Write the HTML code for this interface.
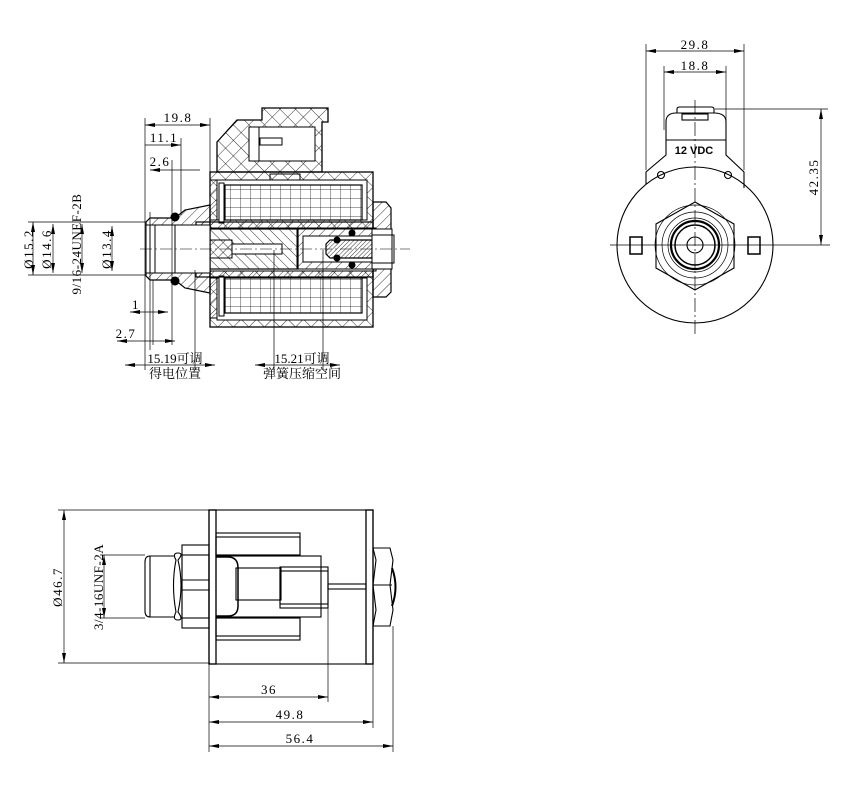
<!DOCTYPE html>
<html><head><meta charset="utf-8"><style>
html,body{margin:0;padding:0;background:#fff;}
svg{display:block;}
text{font-family:"Liberation Serif","Noto Serif CJK SC",serif;fill:#000;}
.d{letter-spacing:1.5px;}
</style></head><body>
<svg width="852" height="800" viewBox="0 0 852 800" xmlns="http://www.w3.org/2000/svg">
<defs>
<pattern id="h1" width="7" height="7" patternUnits="userSpaceOnUse" patternTransform="rotate(45)"><line x1="0" y1="0" x2="0" y2="7" stroke="#000" stroke-width="0.8"/></pattern>
<pattern id="h2" width="7" height="7" patternUnits="userSpaceOnUse" patternTransform="rotate(-45)"><line x1="0" y1="0" x2="0" y2="7" stroke="#000" stroke-width="0.8"/></pattern>
<pattern id="hx" width="11" height="11" patternUnits="userSpaceOnUse" patternTransform="rotate(45)"><line x1="0" y1="0" x2="0" y2="11" stroke="#000" stroke-width="0.8"/><line x1="0" y1="0" x2="11" y2="0" stroke="#000" stroke-width="0.8"/></pattern>
<pattern id="grid" width="10" height="9" patternUnits="userSpaceOnUse"><line x1="0" y1="0" x2="0" y2="9" stroke="#000" stroke-width="0.7"/><line x1="0" y1="0" x2="10" y2="0" stroke="#000" stroke-width="0.7"/></pattern>
<pattern id="hd" width="3" height="3" patternUnits="userSpaceOnUse" patternTransform="rotate(45)"><line x1="0" y1="0" x2="0" y2="3" stroke="#000" stroke-width="0.8"/></pattern>
<marker id="a" viewBox="0 0 10 4" refX="10" refY="2" markerWidth="10" markerHeight="4" orient="auto-start-reverse" markerUnits="userSpaceOnUse"><path d="M0,0 L10,2 L0,4z" fill="#000"/></marker>
</defs>
<g stroke="#000" fill="none" stroke-width="1">

<!-- ===== SECTION VIEW ===== -->
<path d="M217,142 L237,120 L262,120 L262,108 L328,108 L328,122 L322,122 L322,172 L217,172 Z" fill="url(#hx)" stroke-width="1.3"/>
<rect x="249" y="127" width="66" height="34" fill="#fff"/>
<rect x="249" y="127" width="10" height="34" fill="#fff"/>
<rect x="260" y="138" width="22" height="7" fill="#fff"/>
<rect x="270" y="174" width="30" height="6" fill="#fff"/>
<rect x="210" y="172" width="163" height="155" fill="url(#hx)" stroke-width="1.3"/>
<rect x="217" y="180" width="150" height="40" fill="#fff"/>
<rect x="217" y="278" width="150" height="42" fill="#fff"/>
<rect x="225" y="185" width="137" height="35" fill="url(#grid)" stroke-width="1.2"/>
<rect x="225" y="278" width="137" height="35" fill="url(#grid)" stroke-width="1.2"/>
<rect x="219" y="183" width="5" height="40" fill="#fff"/>
<rect x="219" y="276" width="5" height="40" fill="#fff"/>
<rect x="210" y="180" width="7" height="40" fill="url(#h1)"/>
<rect x="210" y="278" width="7" height="40" fill="url(#h1)"/>
<rect x="196" y="222" width="177" height="55" fill="url(#h1)" stroke-width="1.2"/>
<rect x="196" y="228" width="180" height="43" fill="#fff"/>
<rect x="210" y="229" width="88" height="40" fill="url(#h2)" stroke-width="1.2"/>
<rect x="196" y="240" width="36" height="18" fill="url(#h1)"/>
<rect x="232" y="244" width="50" height="10" fill="#fff"/>
<rect x="297" y="229" width="75" height="40" fill="url(#h1)"/>
<rect x="303" y="236" width="70" height="26" fill="#fff"/>
<path d="M326,244 L330,240 L372,240 L372,258 L330,258 L326,254 Z" fill="url(#hd)" stroke-width="1.2"/>
<circle cx="337" cy="240" r="3" fill="#000"/><circle cx="337" cy="258" r="3" fill="#000"/>
<circle cx="352" cy="233" r="3" fill="#000"/><circle cx="352" cy="265" r="3" fill="#000"/>
<path d="M373,202 L386,202 L391,208 L391,292 L386,297 L373,297 Z" fill="url(#h1)" stroke-width="1.2"/>
<rect x="372" y="229" width="20" height="40" fill="#fff"/>
<rect x="372" y="235" width="22" height="28" fill="none"/>
<path d="M146,222 L150,218 L175,218 L185,210 L210,205 L210,293 L185,288 L175,280 L150,280 L146,276 Z" fill="url(#h1)" stroke-width="1.2"/>
<rect x="146" y="225" width="64" height="48" fill="#fff"/>
<line x1="146" y1="225" x2="210" y2="225"/><line x1="146" y1="273" x2="210" y2="273"/>
<line x1="150" y1="225" x2="150" y2="273"/><line x1="155" y1="225" x2="155" y2="273"/><line x1="175" y1="225" x2="175" y2="273"/>
<circle cx="175" cy="217" r="4" fill="#000"/><circle cx="175" cy="281" r="4" fill="#000"/>
<line x1="140" y1="249" x2="410" y2="249" stroke-dasharray="12,3,2,3" stroke-width="0.6"/>

<g stroke-width="0.7">
<line x1="145" y1="118" x2="145" y2="370"/><line x1="210" y1="118" x2="210" y2="205"/>
<line x1="145" y1="125" x2="210" y2="125" marker-start="url(#a)" marker-end="url(#a)"/>
<line x1="181" y1="138" x2="181" y2="215"/>
<line x1="145" y1="145" x2="181" y2="145" marker-end="url(#a)"/>
<line x1="172" y1="160" x2="172" y2="345"/>
<line x1="150" y1="170" x2="200" y2="170" marker-start="url(#a)"/>
<line x1="150" y1="212" x2="150" y2="350"/><line x1="153" y1="280" x2="153" y2="345"/>
<line x1="130" y1="312" x2="168" y2="312" marker-end="url(#a)" marker-start="url(#a)"/>
<line x1="117" y1="341" x2="175" y2="341" marker-start="url(#a)" marker-end="url(#a)"/>
<line x1="195" y1="270" x2="195" y2="370"/>
<line x1="125" y1="365" x2="215" y2="365" marker-start="url(#a)" marker-end="url(#a)"/>
<line x1="274" y1="250" x2="274" y2="370"/><line x1="323" y1="250" x2="323" y2="370"/>
<line x1="255" y1="365" x2="340" y2="365" marker-start="url(#a)" marker-end="url(#a)"/>
<line x1="28" y1="222" x2="146" y2="222"/><line x1="28" y1="275" x2="146" y2="275"/>
<line x1="33" y1="222" x2="33" y2="275" marker-start="url(#a)" marker-end="url(#a)"/>
<line x1="53" y1="224" x2="53" y2="273" marker-start="url(#a)" marker-end="url(#a)"/>
<line x1="82" y1="224" x2="82" y2="273" marker-start="url(#a)" marker-end="url(#a)"/>
<line x1="112" y1="226" x2="112" y2="271" marker-start="url(#a)" marker-end="url(#a)"/>
</g>
</g>
<g font-size="13" class="d">
<text x="178" y="122" text-anchor="middle">19.8</text>
<text x="164" y="142" text-anchor="middle">11.1</text>
<text x="160" y="166" text-anchor="middle">2.6</text>
<text x="136" y="309" text-anchor="middle">1</text>
<text x="126" y="338" text-anchor="middle">2.7</text>
<text x="175" y="363" text-anchor="middle" letter-spacing="0">15.19可调</text>
<text x="175" y="378" text-anchor="middle" letter-spacing="0">得电位置</text>
<text x="302" y="363" text-anchor="middle" letter-spacing="0">15.21可调</text>
<text x="302" y="378" text-anchor="middle" letter-spacing="0">弹簧压缩空间</text>
<text transform="translate(33,249) rotate(-90)" text-anchor="middle">Ø15.2</text>
<text transform="translate(51,249) rotate(-90)" text-anchor="middle">Ø14.6</text>
<text transform="translate(81,244) rotate(-90)" text-anchor="middle" letter-spacing="0.5">9/16-24UNEF-2B</text>
<text transform="translate(111,249) rotate(-90)" text-anchor="middle">Ø13.4</text>
</g>

<!-- ===== END VIEW ===== -->
<g stroke="#000" fill="none" stroke-width="1.1">
<path d="M646,184 L646,172 L666,155 L666,122 Q666,113 676,113 L714,113 Q726,113 726,122 L726,155 L744,172 L744,188"/>
<path d="M677,113 L677,109 Q677,107 680,107 L711,107 Q714,107 714,109 L714,113"/>
<rect x="682" y="114" width="26" height="6"/>
<line x1="666" y1="140" x2="726" y2="140"/>
<circle cx="661" cy="175" r="3.5"/><circle cx="728" cy="175" r="3.5"/>
<circle cx="695" cy="245" r="78"/>
<polygon points="695,202 734,224 734,268 695,290 656,268 656,224"/>
<circle cx="695" cy="245" r="40" stroke-width="0.7"/>
<circle cx="695" cy="245" r="33" stroke-width="0.7"/>
<circle cx="695" cy="245" r="27" stroke-width="0.7"/>
<circle cx="695" cy="245" r="24" stroke-width="2.2"/>
<circle cx="695" cy="245" r="20" stroke-width="1.5"/>
<circle cx="695" cy="245" r="8"/>
<rect x="630" y="237" width="12" height="17" stroke-width="1.5"/><rect x="748" y="237" width="12" height="17" stroke-width="1.5"/>
<g stroke-width="0.7">
<line x1="610" y1="245" x2="830" y2="245"/>
<line x1="695" y1="100" x2="695" y2="335" stroke-dasharray="14,3,2,3"/>
<line x1="646" y1="44" x2="646" y2="170"/><line x1="744" y1="44" x2="744" y2="170"/>
<line x1="664" y1="66" x2="664" y2="130"/><line x1="726" y1="66" x2="726" y2="130"/>
<line x1="646" y1="51" x2="744" y2="51" marker-start="url(#a)" marker-end="url(#a)"/>
<line x1="664" y1="72" x2="726" y2="72" marker-start="url(#a)" marker-end="url(#a)"/>
<line x1="715" y1="109" x2="828" y2="109"/>
<line x1="821" y1="109" x2="821" y2="245" marker-start="url(#a)" marker-end="url(#a)"/>
</g>
</g>
<text x="695" y="49" font-size="13" class="d" text-anchor="middle">29.8</text>
<text x="695" y="70" font-size="13" class="d" text-anchor="middle">18.8</text>
<text transform="translate(818,177) rotate(-90)" font-size="13" class="d" text-anchor="middle">42.35</text>
<text x="694" y="154" font-size="11" font-weight="bold" text-anchor="middle" style="font-family:'Liberation Sans',sans-serif">12 VDC</text>

<!-- ===== BOTTOM VIEW ===== -->
<g stroke="#000" fill="none" stroke-width="1.1">
<rect x="209" y="510" width="164" height="154"/>
<rect x="209" y="510" width="7" height="154" stroke-width="1.3"/>
<rect x="366" y="510" width="7" height="154" stroke-width="1.3"/>
<rect x="216" y="533" width="84" height="22"/><rect x="216" y="537" width="84" height="18"/>
<rect x="216" y="618" width="84" height="22"/><rect x="216" y="618" width="84" height="18"/>
<rect x="216" y="556" width="105" height="61"/>
<path d="M216,557 L228,557 Q238,557 238,568 L238,606 Q238,616 228,616 L216,616" stroke-width="1.5"/>
<rect x="236" y="568" width="45" height="32"/>
<rect x="280" y="567" width="48" height="41"/><rect x="280" y="571" width="48" height="33"/>
<rect x="328" y="584" width="38" height="5"/>
<path d="M373,548 L390,548 L393,560 L390,585 L393,610 L390,626 L373,626 L376,610 L373,585 L376,560 Z"/>
<line x1="373" y1="585" x2="392" y2="585"/>
<path d="M392,568 Q399,587 392,606" stroke-width="2"/>
<rect x="182" y="545" width="27" height="83"/><rect x="182" y="555" width="27" height="63"/>
<line x1="182" y1="580" x2="209" y2="580"/><line x1="182" y1="590" x2="209" y2="590"/>
<path d="M178,553 Q184,553 178,560 Q184,585 178,612 Q184,620 178,620 Q172,620 176,612 Q171,585 176,560 Q172,553 178,553Z"/>
<path d="M175,556 L150,556 Q145,556 145,562 L145,611 Q145,617 150,617 L175,617"/>
<line x1="150" y1="556" x2="150" y2="617"/>
<g stroke-width="0.7">
<line x1="58" y1="510" x2="210" y2="510"/><line x1="58" y1="663" x2="210" y2="663"/>
<line x1="64" y1="510" x2="64" y2="663" marker-start="url(#a)" marker-end="url(#a)"/>
<line x1="100" y1="555" x2="145" y2="555"/><line x1="100" y1="618" x2="145" y2="618"/>
<line x1="104" y1="555" x2="104" y2="618" marker-start="url(#a)" marker-end="url(#a)"/>
<line x1="209" y1="664" x2="209" y2="752"/><line x1="328" y1="608" x2="328" y2="702"/>
<line x1="373" y1="664" x2="373" y2="728"/><line x1="393" y1="626" x2="393" y2="752"/>
<line x1="209" y1="697" x2="328" y2="697" marker-start="url(#a)" marker-end="url(#a)"/>
<line x1="209" y1="722" x2="373" y2="722" marker-start="url(#a)" marker-end="url(#a)"/>
<line x1="209" y1="746" x2="393" y2="746" marker-start="url(#a)" marker-end="url(#a)"/>
</g>
</g>
<g font-size="13" class="d">
<text transform="translate(62,587) rotate(-90)" text-anchor="middle">Ø46.7</text>
<text transform="translate(103,587) rotate(-90)" text-anchor="middle" letter-spacing="0.5">3/4-16UNF-2A</text>
<text x="269" y="694" text-anchor="middle">36</text>
<text x="290" y="719" text-anchor="middle">49.8</text>
<text x="300" y="743" text-anchor="middle">56.4</text>
</g>
</svg>
</body></html>
